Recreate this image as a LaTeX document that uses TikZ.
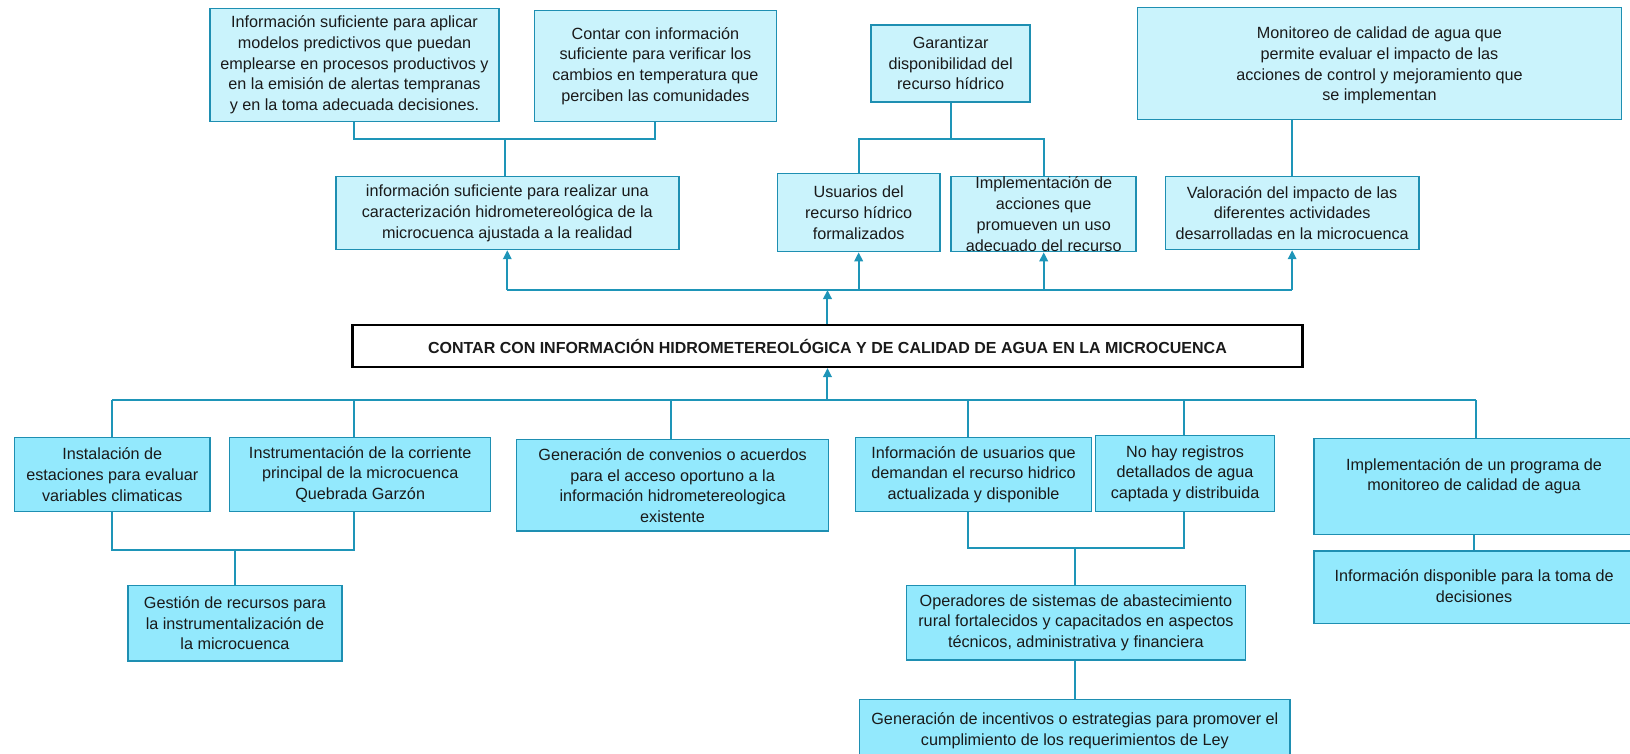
\documentclass[tikz,border=0pt]{standalone}
\usepackage{fontspec}
\setmainfont{Liberation Sans}
\usetikzlibrary{fit,arrows.meta}
\definecolor{topfill}{HTML}{CAF3FC}
\definecolor{lowfill}{HTML}{93E9FD}
\definecolor{edge}{HTML}{1E8FB2}
\definecolor{wirecol}{HTML}{1E95B8}
\definecolor{ink}{HTML}{1A1A1A}
\begin{document}
\begin{tikzpicture}[x=1.0396bp, y=-1.0396bp,
  box/.style={draw=edge, line width=1.5bp, inner sep=0pt, rectangle},
  topbox/.style={box, fill=topfill},
  lowbox/.style={box, fill=lowfill},
  txt/.style={align=center, font=\fontsize{16.2bp}{20.7bp}\selectfont, inner sep=0pt, text=ink},
  wire/.style={draw=wirecol, line width=2bp},
  up/.style={wire, -{Triangle[length=9bp,width=8.5bp]}},
]
\useasboundingbox (0,0) rectangle (1568,725);
\clip (0,0) rectangle (1568,725);

% ---------- upper level ----------
\node[topbox, fit={(202,8)(480,117)}] (A) {};
\node[txt] (At) at (A) {Información suficiente para aplicar\\modelos predictivos que puedan\\emplearse en procesos productivos y\\en la  emisión de alertas tempranas\\y en la toma adecuada decisiones.};

\node[topbox, fit={(514,10)(747,117)}] (B) {};
\node[txt] (Bt) at (B) {Contar con información\\suficiente para verificar los\\cambios en temperatura que\\perciben las comunidades};

\node[topbox, fit={(838,24)(991,98)}] (D) {};
\node[txt] (Dt) at (D) {Garantizar\\disponibilidad del\\recurso hídrico};

\node[topbox, fit={(1094,7)(1560,115)}] (G) {};
\node[txt] (Gt) at (1327,63) {Monitoreo de calidad de agua que\\permite  evaluar el impacto de las\\acciones de control y mejoramiento que\\se implementan};

\node[topbox, fit={(323,170)(653,240)}] (C) {};
\node[txt] (Ct) at (C) {información suficiente para realizar una\\caracterización hidrometereológica de la\\microcuenca ajustada a la realidad};

\node[topbox, fit={(748,167)(904,242)}] (E) {};
\node[txt] (Et) at (E) {Usuarios del\\recurso hídrico\\formalizados};

\node[topbox, fit={(915,170)(1093,242)}] (F) {};
\node[txt] (Ft) at (F) {Implementación de\\acciones que\\promueven un uso\\adecuado del recurso};

\node[topbox, fit={(1121,170)(1365,240)}] (H) {};
\node[txt] (Ht) at (H) {Valoración del impacto de las\\diferentes actividades\\desarrolladas en la microcuenca};

% ---------- central goal ----------
\node[draw=black, line width=2.2bp, fill=white, inner sep=0pt, fit={(339,313)(1253,353)}] (T) {};
\node[txt, font=\fontsize{16bp}{19bp}\selectfont\bfseries] (Tt) at (T) {CONTAR CON INFORMACIÓN HIDROMETEREOLÓGICA Y DE CALIDAD DE AGUA EN LA MICROCUENCA};

% ---------- lower level ----------
\node[lowbox, fit={(14,421)(202,492)}] (I) {};
\node[txt] (It) at (I) {Instalación de\\estaciones para evaluar\\variables climaticas};

\node[lowbox, fit={(221,421)(472,492)}] (J) {};
\node[txt] (Jt) at (J) {Instrumentación de la corriente\\principal de la microcuenca\\Quebrada Garzón};

\node[lowbox, fit={(497,423)(797,511)}] (K) {};
\node[txt] (Kt) at (K) {Generación de convenios o acuerdos\\para el acceso oportuno a la\\información hidrometereologica\\existente};

\node[lowbox, fit={(823,421)(1050,492)}] (L) {};
\node[txt] (Lt) at (L) {Información de usuarios que\\demandan el recurso hidrico\\actualizada y disponible};

\node[lowbox, fit={(1054,419)(1226,492)}] (M) {};
\node[txt] (Mt) at (M) {No hay registros\\detallados de agua\\captada y distribuida};

\node[lowbox, fit={(1264,422)(1575,514)}] (N) {};
\node[txt] (Nt) at (1418,458) {Implementación de un programa de\\monitoreo de calidad de agua};

\node[lowbox, fit={(123,563)(329,636)}] (O) {};
\node[txt] (Ot) at (O) {Gestión de recursos para\\la instrumentalización de\\la microcuenca};

\node[lowbox, fit={(872,563)(1198,635)}] (P) {};
\node[txt] (Pt) at (P) {Operadores de sistemas de abastecimiento\\rural fortalecidos y capacitados en aspectos\\técnicos, administrativa y financiera};

\node[lowbox, fit={(827,673)(1241,733)}] (Q) {};
\node[txt] (Qt) at (Q) {Generación de incentivos o estrategias para promover el\\cumplimiento de los requerimientos de Ley};

\node[lowbox, fit={(1264,530)(1575,600)}] (R) {};
\node[txt] (Rt) at (1418,564) {Información disponible para la toma de\\decisiones};

% ---------- junction points ----------
\coordinate (ab) at (486,134);
\coordinate (dj) at (914,134);
\coordinate (bus1) at (796,279);
\coordinate (bus2) at (796,385);
\coordinate (jd) at (341,385);
\coordinate (kd) at (645,385);
\coordinate (ld) at (931,385);
\coordinate (md) at (1139,385);
\coordinate (ij) at (226,529);
\coordinate (lm) at (1034,527);

% ---------- upper connectors ----------
\draw[wire] (A.south) |- (ab) -| (B.south);
\draw[wire] (ab) -- (ab |- C.north);
\draw[wire] (E.north) |- (dj) -| (F.north);
\draw[wire] (D.south) -- (D.south |- dj);
\draw[wire] (H.north) -- (H.north |- G.south);

\draw[wire] (C.south |- bus1) -- (H.south |- bus1);
\draw[up] (C.south |- bus1) -- (C.south);
\draw[up] (E.south |- bus1) -- (E.south);
\draw[up] (F.south |- bus1) -- (F.south);
\draw[up] (H.south |- bus1) -- (H.south);
\draw[up] (T.north) -- (T.north |- bus1);

% ---------- lower connectors ----------
\draw[wire] (I.north |- bus2) -- (N.north |- bus2);
\draw[up] (T.south |- bus2) -- (T.south);
\draw[wire] (I.north |- bus2) -- (I.north);
\draw[wire] (jd) -- (jd |- J.north);
\draw[wire] (kd) -- (kd |- K.north);
\draw[wire] (ld) -- (ld |- L.north);
\draw[wire] (md) -- (md |- M.north);
\draw[wire] (N.north |- bus2) -- (N.north);

\draw[wire] (I.south) |- (ij) -| (jd |- J.south);
\draw[wire] (ij) -- (ij |- O.north);
\draw[wire] (ld |- L.south) |- (lm) -| (md |- M.south);
\draw[wire] (lm) -- (lm |- P.north);
\draw[wire] (lm |- P.south) -- (lm |- Q.north);
\draw[wire] (N.south -| Nt) -- (R.north -| Nt);
\end{tikzpicture}
\end{document}
